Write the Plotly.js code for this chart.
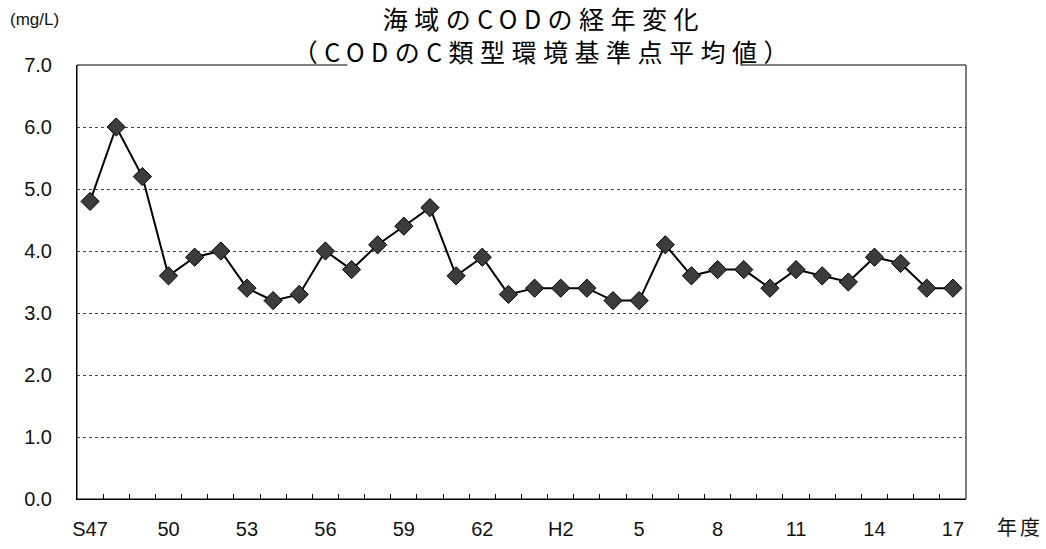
<!DOCTYPE html>
<html>
<head>
<meta charset="utf-8">
<script src="https://cdn.plot.ly/plotly-3.0.1.min.js"></script>
<style>
html,body{margin:0;padding:0;background:#fff;}
#chart{width:1046px;height:549px;}
g.annotation[data-index="0"] text{letter-spacing:6.5px;}
g.annotation[data-index="2"] text{letter-spacing:3px;}
</style>
</head>
<body>
<div id="chart"></div>
<script>
// Fiscal years (Showa 47 – Heisei 17)
const years = ['S47','S48','S49','S50','S51','S52','S53','S54','S55','S56','S57','S58','S59','S60','S61','S62','S63',
               'H1','H2','H3','H4','H5','H6','H7','H8','H9','H10','H11','H12','H13','H14','H15','H16','H17'];
// Mean COD (mg/L) at C-type environmental standard points
const codValues = [4.8,6.0,5.2,3.6,3.9,4.0,3.4,3.2,3.3,4.0,3.7,4.1,4.4,4.7,3.6,3.9,3.3,
                   3.4,3.4,3.4,3.2,3.2,4.1,3.6,3.7,3.7,3.4,3.7,3.6,3.5,3.9,3.8,3.4,3.4];
// Tick labels shown under the axis
const tickLabels = ['S47','','','50','','','53','','','56','','','59','','','62','',
                    '','H2','','','5','','','8','','','11','','','14','','','17'];
const yTicks = [0,1,2,3,4,5,6,7];

const titleLine1 = '海域のCODの経年変化';
const titleLine2 = '（CODのC類型環境基準点平均値）';

const trace = {
  x: years,
  y: codValues,
  type: 'scatter',
  mode: 'lines+markers',
  line: {color: '#000', width: 2},
  marker: {symbol: 'diamond', size: 14, color: '#3c3c3c', line: {color: '#000', width: 1}},
  hoverinfo: 'x+y',
  showlegend: false
};

const tickFont = {family: '"Liberation Sans", Arial, sans-serif', size: 20, color: '#111'};
const cjk = '"Noto Sans CJK JP", "Noto Sans", sans-serif';

const layout = {
  width: 1046, height: 549,
  margin: {l: 77, r: 80, t: 65, b: 50},
  paper_bgcolor: '#fff', plot_bgcolor: '#fff',
  xaxis: {
    type: 'category',
    categoryorder: 'array', categoryarray: years,
    tickmode: 'array', tickvals: years, ticktext: tickLabels,
    tickson: 'boundaries', tickangle: 0,
    ticks: 'inside', ticklen: 5, tickcolor: '#000', tickwidth: 1,
    showgrid: false, zeroline: false,
    showline: true, linecolor: '#000', linewidth: 1,
    tickfont: tickFont, ticklabelstandoff: 12,
    range: [-0.5, years.length - 0.5], fixedrange: true
  },
  yaxis: {
    range: [0, 7],
    tickmode: 'array', tickvals: yTicks, ticktext: yTicks.map(v => v.toFixed(1)),
    ticks: '', showgrid: true, gridcolor: '#444', gridwidth: 1, griddash: 'dot',
    zeroline: false, showline: true, linecolor: '#000', linewidth: 1,
    tickfont: tickFont, ticklabelstandoff: 20, fixedrange: true
  },
  shapes: [
    {type: 'rect', xref: 'paper', yref: 'paper', x0: 0, x1: 1, y0: 0, y1: 1,
     line: {color: '#000', width: 1}, layer: 'above'}
  ],
  annotations: [
    {text: titleLine1 + '<br>' + titleLine2, xref: 'paper', yref: 'paper', x: 0.5253, y: 1.0714,
     xanchor: 'center', yanchor: 'middle', align: 'center', showarrow: false,
     bgcolor: '#fff', borderpad: 0,
     font: {family: cjk, size: 25, color: '#000'}},
    {text: '(mg/L)', xref: 'paper', yref: 'paper', x: -0.0776, y: 1.1037,
     xanchor: 'left', yanchor: 'middle', showarrow: false,
     font: {family: '"Liberation Sans", Arial, sans-serif', size: 17, color: '#111'}},
    {text: '年度', xref: 'paper', yref: 'paper', x: 1.0607, y: -0.0645,
     xanchor: 'center', yanchor: 'middle', showarrow: false,
     font: {family: cjk, size: 20, color: '#111'}}
  ]
};

Plotly.newPlot('chart', [trace], layout, {displayModeBar: false, staticPlot: true});
</script>
</body>
</html>
